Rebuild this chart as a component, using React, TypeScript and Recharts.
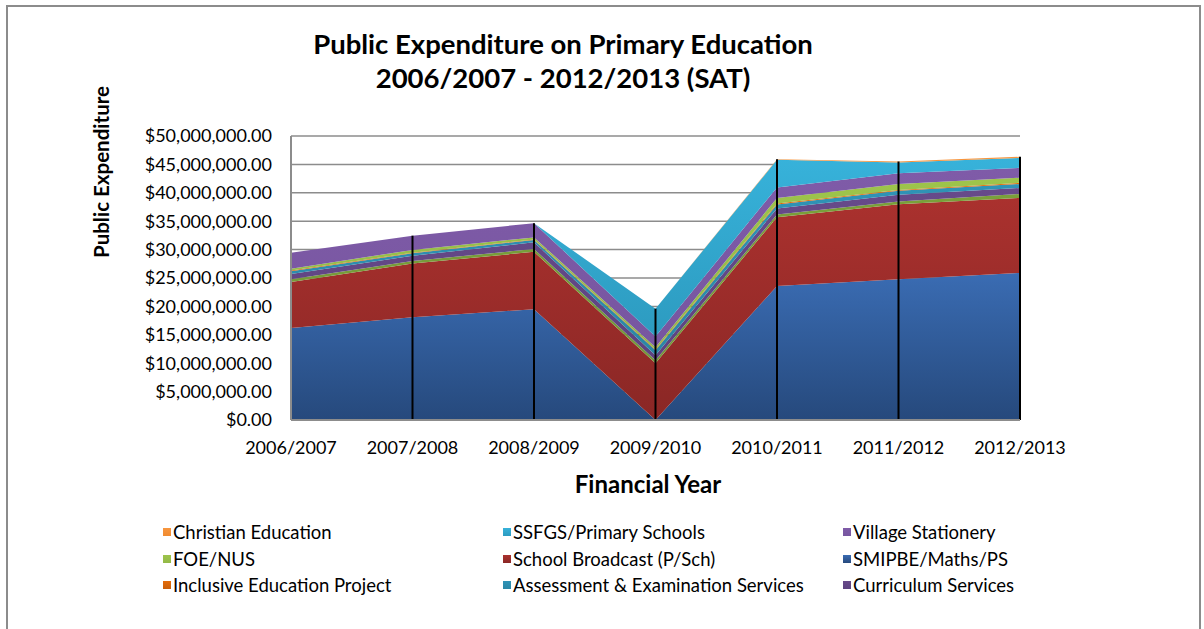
import React from "react";
import {
    AreaChart,
    Area,
    XAxis,
    YAxis,
    CartesianGrid,
    ReferenceLine,
} from "recharts";

const categories = ["2006/2007", "2007/2008", "2008/2009", "2009/2010", "2010/2011", "2011/2012", "2012/2013"];

// stacked from the bottom up, values in SAT
const smipbe = [16200000, 18100000, 19500000, 0, 23600000, 24800000, 25900000];
const schoolBroadcast = [8100000, 9450000, 10100000, 10000000, 12100000, 13200000, 13200000];
const unlisted = [500000, 450000, 500000, 500000, 500000, 450000, 700000];
const curriculum = [900000, 900000, 1200000, 900000, 1050000, 1200000, 1050000];
const assessment = [500000, 450000, 400000, 900000, 700000, 700000, 700000];
const inclusive = [100000, 100000, 100000, 100000, 150000, 150000, 200000];
const foeNus = [350000, 500000, 350000, 400000, 1000000, 1050000, 900000];
const village = [2800000, 2500000, 2500000, 1900000, 1850000, 1900000, 1750000];
const ssfgs = [0, 0, 0, 4900000, 4850000, 1900000, 1750000];
const christian = [0, 0, 0, 0, 100000, 150000, 200000];

const yTicks = [0, 5000000, 10000000, 15000000, 20000000, 25000000, 30000000, 35000000, 40000000, 45000000, 50000000];

const series = [
    { key: "smipbe", name: "SMIPBE/Maths/PS", values: smipbe, top: "#3a6cb3", bottom: "#26497c" },
    { key: "broadcast", name: "School Broadcast (P/Sch)", values: schoolBroadcast, top: "#aa312e", bottom: "#8a2725" },
    { key: "unlisted", name: "", values: unlisted, top: "#7aa03a", bottom: "#74963a" },
    { key: "curriculum", name: "Curriculum Services", values: curriculum, top: "#674a8a", bottom: "#5d4380" },
    { key: "assessment", name: "Assessment & Examination Services", values: assessment, top: "#2f93b6", bottom: "#2a87a6" },
    { key: "inclusive", name: "Inclusive Education Project", values: inclusive, top: "#e46c0a", bottom: "#c95f0a" },
    { key: "foe", name: "FOE/NUS", values: foeNus, top: "#9dc44b", bottom: "#93b947" },
    { key: "village", name: "Village Stationery", values: village, top: "#7f5ba8", bottom: "#7756a0" },
    { key: "ssfgs", name: "SSFGS/Primary Schools", values: ssfgs, top: "#37b2da", bottom: "#2d9bc0" },
    { key: "christian", name: "Christian Education", values: christian, top: "#f7963f", bottom: "#f08a30" },
];

// legend reads row by row, like the original
const legendOrder = [
    "christian", "ssfgs", "village",
    "foe", "broadcast", "smipbe",
    "inclusive", "assessment", "curriculum",
];

const data = categories.map((c, i) => {
    const row: Record<string, string | number> = { year: c };
    series.forEach((s) => (row[s.key] = s.values[i]));
    return row;
});

const totals = categories.map((_, i) => series.reduce((sum, s) => sum + s.values[i], 0));

const money = (v: number) =>
    "$" + v.toLocaleString("en-US", { minimumFractionDigits: 2, maximumFractionDigits: 2 });

const FONT = "Lato, 'Open Sans', sans-serif";

export default function App() {
    return (
        <div
            style={{
                position: "absolute",
                left: 0,
                top: 0,
                width: 1204,
                height: 629,
                overflow: "hidden",
                background: "#fff",
                fontFamily: FONT,
                color: "#000",
            }}
        >
            <div
                style={{
                    position: "absolute",
                    left: 6,
                    top: 5,
                    width: 1191,
                    height: 700,
                    border: "2px solid #8c8c8c",
                }}
            />

            <div
                style={{
                    position: "absolute",
                    left: 563,
                    top: 27,
                    transform: "translateX(-50%)",
                    textAlign: "center",
                    fontWeight: 700,
                    fontSize: 27.5,
                    lineHeight: "34px",
                    whiteSpace: "nowrap",
                }}
            >
                Public Expenditure on Primary Education
                <br />
                2006/2007 - 2012/2013 (SAT)
            </div>

            <div
                style={{
                    position: "absolute",
                    left: 101,
                    top: 172,
                    transform: "translate(-50%, -50%) rotate(-90deg)",
                    fontWeight: 700,
                    fontSize: 20.5,
                    whiteSpace: "nowrap",
                }}
            >
                Public Expenditure
            </div>

            <div
                style={{
                    position: "absolute",
                    left: 648,
                    top: 483,
                    transform: "translate(-50%, -50%)",
                    fontWeight: 700,
                    fontSize: 24,
                    whiteSpace: "nowrap",
                }}
            >
                Financial Year
            </div>

            <AreaChart
                width={1204}
                height={629}
                data={data}
                margin={{ top: 136, right: 184, bottom: 179, left: 0 }}
                style={{ position: "absolute", left: 0, top: 0 }}
            >
                <defs>
                    {series.map((s) => (
                        <linearGradient key={s.key} id={"fill-" + s.key} x1="0" y1="0" x2="0" y2="1">
                            <stop offset="0%" stopColor={s.top} />
                            <stop offset="100%" stopColor={s.bottom} />
                        </linearGradient>
                    ))}
                </defs>
                <CartesianGrid vertical={false} stroke="#8c8c8c" strokeWidth={1.5} />
                <XAxis
                    dataKey="year"
                    height={30}
                    tickLine={false}
                    tickSize={8}
                    tickMargin={13}
                    axisLine={{ stroke: "#8c8c8c", strokeWidth: 2 }}
                    tick={{ fill: "#000", fontSize: 18, fontFamily: FONT }}
                    interval={0}
                />
                <YAxis
                    width={291}
                    domain={[0, 50000000]}
                    ticks={yTicks}
                    tickFormatter={money}
                    tickLine={false}
                    tickSize={8}
                    tickMargin={11}
                    axisLine={{ stroke: "#8c8c8c", strokeWidth: 2 }}
                    tick={{ fill: "#000", fontSize: 18, fontFamily: FONT }}
                    interval={0}
                />
                {series.map((s) => (
                    <Area
                        key={s.key}
                        type="linear"
                        dataKey={s.key}
                        name={s.name}
                        stackId="spend"
                        stroke="none"
                        fill={"url(#fill-" + s.key + ")"}
                        fillOpacity={1}
                        isAnimationActive={false}
                        dot={false}
                        activeDot={false}
                    />
                ))}
                {categories.slice(1).map((c, i) => (
                    <ReferenceLine
                        key={c}
                        segment={[
                            { x: c, y: 0 },
                            { x: c, y: totals[i + 1] },
                        ]}
                        stroke="#000"
                        strokeWidth={2}
                        ifOverflow="visible"
                    />
                ))}
            </AreaChart>

            <div
                style={{
                    position: "absolute",
                    left: 163,
                    top: 519,
                    display: "grid",
                    gridTemplateColumns: "340px 340px 340px",
                    fontSize: 18.5,
                    lineHeight: "26.5px",
                }}
            >
                {legendOrder.map((k) => {
                    const s = series.find((x) => x.key === k)!;
                    return (
                        <div key={k} style={{ display: "flex", alignItems: "center", whiteSpace: "nowrap" }}>
                            <span
                                style={{
                                    display: "inline-block",
                                    width: 8,
                                    height: 8,
                                    marginRight: 2,
                                    background: `linear-gradient(${s.top}, ${s.bottom})`,
                                }}
                            />
                            {s.name}
                        </div>
                    );
                })}
            </div>
        </div>
    );
}
